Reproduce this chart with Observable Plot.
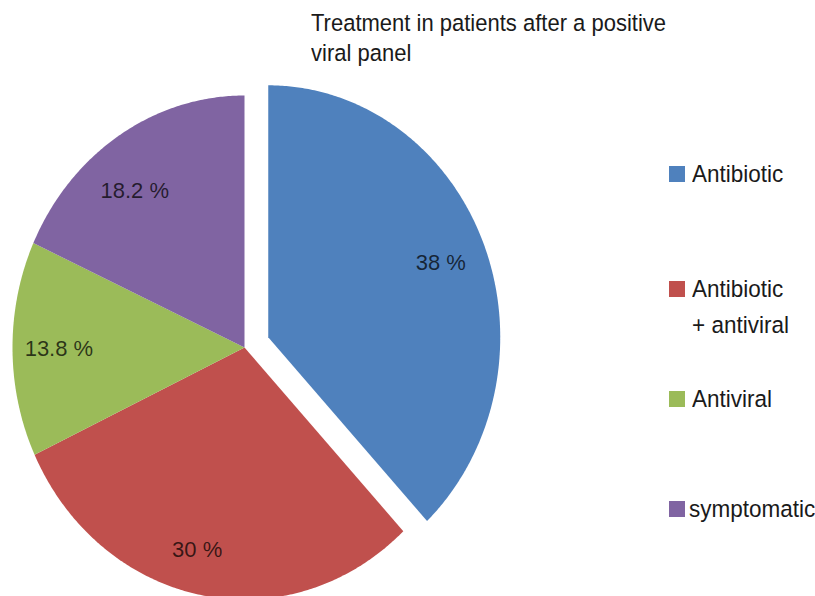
<!DOCTYPE html>
<html>
<head>
<meta charset="utf-8">
<script src="https://cdn.jsdelivr.net/npm/d3@7"></script>
<script src="https://cdn.jsdelivr.net/npm/@observablehq/plot@0.6"></script>
<style>
  html, body { margin: 0; padding: 0; background: #fff; }
  body { font-family: "Liberation Sans", Arial, sans-serif; color: #1a1a1a; }
  #wrap { position: relative; width: 815px; height: 596px; overflow: hidden; }
  #chart { position: absolute; left: 0; top: 0; }
  #title { position: absolute; left: 311px; top: 10px; font-size: 22px; line-height: 28px; white-space: nowrap;
           transform: scaleY(1.08); transform-origin: 0 22px; }
  .sw { position: absolute; width: 16px; height: 16px; left: 669px; }
  .lt { position: absolute; left: 692px; font-size: 22.5px; line-height: 33px; white-space: nowrap;
        transform: scaleY(1.08); transform-origin: 0 24px; }
</style>
</head>
<body>
<div id="wrap">
  <div id="chart"></div>
  <div id="title">Treatment in patients after a positive<br>viral panel</div>
  <div id="legend"></div>
</div>
<script>
// ---- data ----
const categories = ["Antibiotic", "Antibiotic + antiviral", "Antiviral", "symptomatic"];
const values = [38, 30, 13.8, 18.2];
const labels = ["38 %", "30 %", "13.8 %", "18.2 %"];
const legendLines = [["Antibiotic"], ["Antibiotic", "+ antiviral"], ["Antiviral"], ["symptomatic"]];
const colors = ["#4F81BD", "#C0504D", "#9BBB59", "#8064A2"];

// ---- geometry (unit pie, clockwise from 12 o'clock) ----
const total = d3.sum(values);
const explode = [0.11, 0, 0, 0];
const labelR = [0.8, 0.83, 0.8, 0.78];
const labelShift = [0, 0.06, 0, -0.08]; // angular nudge (radians), like Excel's best-fit placement
const points = [];
const labelData = [];
let cum = 0;
values.forEach((v, i) => {
  const a0 = cum / total * 2 * Math.PI;
  const a1 = (cum + v) / total * 2 * Math.PI;
  const mid = (a0 + a1) / 2;
  const ox = explode[i] * Math.sin(mid), oy = explode[i] * Math.cos(mid);
  points.push({name: categories[i], x: ox, y: oy});
  const n = Math.max(2, Math.ceil((a1 - a0) / (Math.PI / 360)));
  for (let k = 0; k <= n; k++) {
    const a = a0 + (a1 - a0) * k / n;
    points.push({name: categories[i], x: ox + Math.sin(a), y: oy + Math.cos(a)});
  }
  points.push({name: categories[i], x: ox, y: oy});
  const la = mid + labelShift[i];
  labelData.push({name: categories[i], text: labels[i], x: ox + labelR[i] * Math.sin(la), y: oy + labelR[i] * Math.cos(la)});
  cum += v;
});

// pie centre at (244, 347) px, radii 232 x 252 px
const W = 815, H = 596, cx = 244, cy = 347, rx = 232, ry = 252;

const plot = Plot.plot({
  width: W,
  height: H,
  margin: 0,
  style: {fontFamily: "Liberation Sans, Arial, sans-serif", background: "transparent"},
  x: {domain: [-cx / rx, (W - cx) / rx], axis: null},
  y: {domain: [-(H - cy) / ry, cy / ry], axis: null},
  color: {domain: categories, range: colors},
  marks: [
    Plot.line(points, {x: "x", y: "y", z: "name", fill: "name", stroke: "none", curve: "linear"}),
    Plot.text(labelData, {x: "x", y: "y", text: "text", fontSize: 22, fill: "#000", fillOpacity: 0.72})
  ]
});
document.getElementById("chart").appendChild(plot);

// ---- legend ----
const legBaselines = [182, 297, 407, 517];
const legend = document.getElementById("legend");
categories.forEach((c, i) => {
  const sw = document.createElement("div");
  sw.className = "sw";
  sw.style.background = colors[i];
  sw.style.top = (legBaselines[i] - 16) + "px";
  legend.appendChild(sw);
  const t = document.createElement("div");
  t.className = "lt";
  t.style.top = (legBaselines[i] - 24) + "px";
  if (i === 3) t.style.left = "689px";
  t.innerHTML = legendLines[i].join("<br>");
  legend.appendChild(t);
});
</script>
</body>
</html>
